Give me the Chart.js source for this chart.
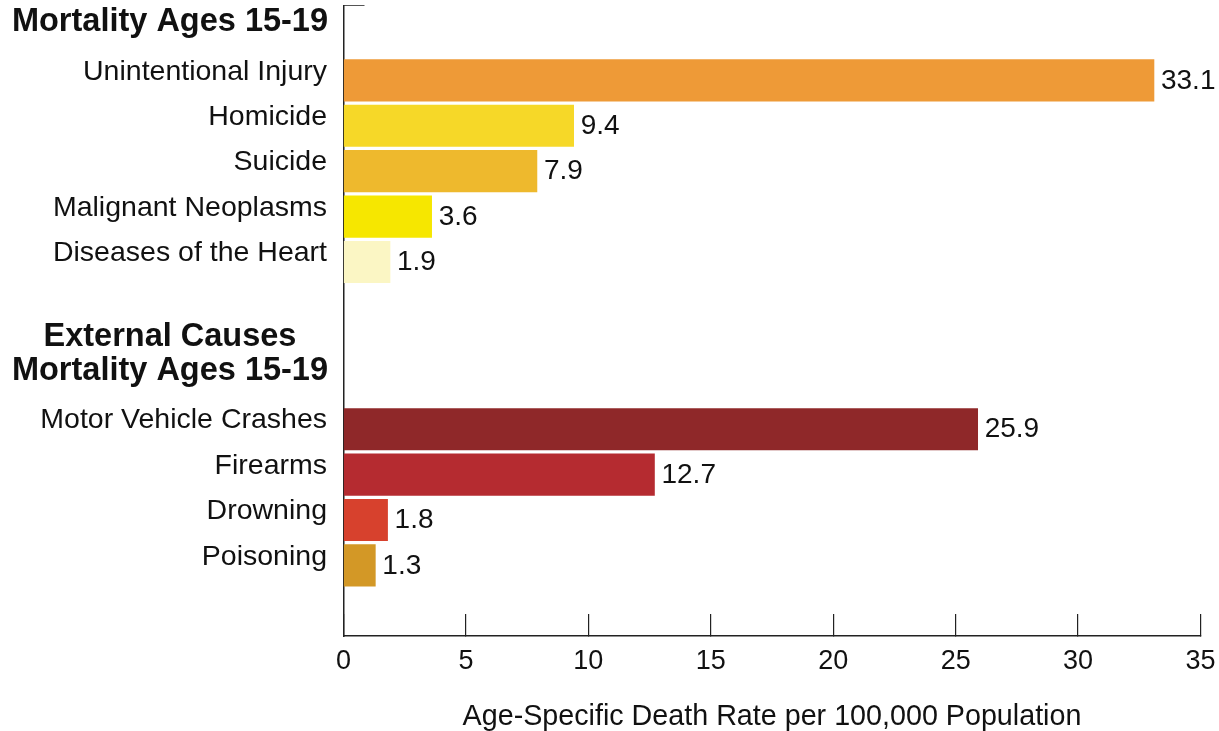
<!DOCTYPE html>
<html>
<head>
<meta charset="utf-8">
<title>Mortality Ages 15-19</title>
<script src="https://cdn.jsdelivr.net/npm/chart.js@4/dist/chart.umd.min.js"></script>
<style>
  html, body { margin: 0; padding: 0; background: #ffffff; }
  canvas { display: block; }
</style>
</head>
<body>
<canvas id="chart" width="1219" height="731"></canvas>
<script>
// Leading causes of death, ages 15-19 (rate per 100,000)
const LEADING_CAUSES = ['Unintentional Injury', 'Homicide', 'Suicide', 'Malignant Neoplasms', 'Diseases of the Heart'];
const LEADING_RATES = [33.1, 9.4, 7.9, 3.6, 1.9];
const LEADING_COLORS = ['#EE9A37', '#F6D828', '#EEB92D', '#F6E700', '#FBF6C4'];

// External causes of death, ages 15-19 (rate per 100,000)
const EXTERNAL_CAUSES = ['Motor Vehicle Crashes', 'Firearms', 'Drowning', 'Poisoning'];
const EXTERNAL_RATES = [25.9, 12.7, 1.8, 1.3];
const EXTERNAL_COLORS = ['#8F2829', '#B52B30', '#D7412D', '#D39826'];

const SECTION_TITLES = [
  ['Mortality Ages 15-19'],
  ['External Causes', 'Mortality Ages 15-19']
];

const X_TICKS = [0, 5, 10, 15, 20, 25, 30, 35];
const X_TITLE = 'Age-Specific Death Rate per 100,000 Population';

// ---- vertical layout, in bar-row units ----
const SECTION_START_ROWS = [0, 7.685];   // first bar row of each section
const TITLE_ROW_OFFSET = -1.28;          // last title line, relative to first bar
const TITLE_LINE_GAP = 34;               // px between title lines
const Y_MIN = -1.65;
const Y_MAX = 12.24;

const FONT = '"Liberation Sans", Arial, Helvetica, sans-serif';

const sections = [
  { title: SECTION_TITLES[0], labels: LEADING_CAUSES, values: LEADING_RATES, colors: LEADING_COLORS, start: SECTION_START_ROWS[0] },
  { title: SECTION_TITLES[1], labels: EXTERNAL_CAUSES, values: EXTERNAL_RATES, colors: EXTERNAL_COLORS, start: SECTION_START_ROWS[1] }
];

const points = [];
const barColors = [];
const rowLabels = [];
sections.forEach(sec => {
  sec.values.forEach((v, i) => {
    points.push({ x: v, y: sec.start + i });
    barColors.push(sec.colors[i]);
    rowLabels.push(sec.labels[i]);
  });
});

// Value labels beside the bars and bold section titles left of the axis
const annotate = {
  id: 'annotate',
  afterDatasetsDraw(chart) {
    const { ctx } = chart;
    const meta = chart.getDatasetMeta(0);
    const data = chart.data.datasets[0].data;
    ctx.save();
    ctx.fillStyle = '#111111';
    ctx.font = '28px ' + FONT;
    ctx.textAlign = 'left';
    ctx.textBaseline = 'middle';
    meta.data.forEach((bar, i) => {
      ctx.fillText(data[i].x.toFixed(1), bar.x + 7, bar.y + 0.5);
    });

    const yScale = chart.scales.y;
    const titleRight = 328;
    ctx.font = 'bold 32.5px ' + FONT;
    ctx.textAlign = 'center';
    sections.forEach(sec => {
      const lastY = yScale.getPixelForValue(sec.start + TITLE_ROW_OFFSET);
      const widest = Math.max(...sec.title.map(t => ctx.measureText(t).width));
      const cx = titleRight - widest / 2;
      sec.title.forEach((line, k) => {
        const y = lastY - (sec.title.length - 1 - k) * TITLE_LINE_GAP;
        ctx.fillText(line, cx, y);
      });
    });
    ctx.restore();
  }
};

new Chart(document.getElementById('chart'), {
  type: 'bar',
  data: {
    datasets: [{
      data: points,
      backgroundColor: barColors,
      borderWidth: 0,
      barThickness: 41.5
    }]
  },
  options: {
    indexAxis: 'y',
    responsive: false,
    animation: false,
    devicePixelRatio: 1,
    layout: { padding: { top: 5.5, right: 18.5, bottom: 0, left: 0 } },
    plugins: {
      legend: { display: false },
      tooltip: { enabled: false }
    },
    scales: {
      x: {
        type: 'linear',
        position: 'bottom',
        bounds: 'data',
        min: X_TICKS[0],
        max: X_TICKS[X_TICKS.length - 1],
        afterBuildTicks(scale) {
          scale.ticks = X_TICKS.map(v => ({ value: v }));
          scale.min = X_TICKS[0];
          scale.max = X_TICKS[X_TICKS.length - 1];
        },
        afterFit(scale) {
          scale.height = 95;
          scale.paddingLeft = 0;
          scale.paddingRight = 0;
        },
        grid: {
          display: true,
          drawOnChartArea: false,
          drawTicks: true,
          tickLength: -22,
          color: '#222222',
          lineWidth: 1.2
        },
        border: { display: true, color: '#222222', width: 1.5 },
        ticks: {
          autoSkip: false,
          maxRotation: 0,
          padding: 31.2,
          color: '#111111',
          font: { family: FONT, size: 27 }
        },
        title: {
          display: true,
          text: X_TITLE,
          color: '#111111',
          font: { family: FONT, size: 28.7, lineHeight: 1 },
          padding: { top: 0, bottom: 0 }
        }
      },
      y: {
        type: 'linear',
        position: 'left',
        reverse: true,
        offset: false,
        bounds: 'data',
        min: Y_MIN,
        max: Y_MAX,
        afterBuildTicks(scale) {
          scale.ticks = [{ value: Y_MIN }].concat(points.map(p => ({ value: p.y })));
          scale.min = Y_MIN;
          scale.max = Y_MAX;
        },
        afterFit(scale) {
          scale.width = 343.5;
          scale.paddingTop = 0;
          scale.paddingBottom = 0;
        },
        grid: {
          display: true,
          offset: false,
          drawOnChartArea: false,
          drawTicks: true,
          tickLength: -21,
          lineWidth: 1,
          color: ctx => (ctx.index === 0 ? '#555555' : 'rgba(0,0,0,0)')
        },
        border: { display: true, color: '#222222', width: 1.5 },
        ticks: {
          autoSkip: false,
          padding: 37.5,
          labelOffset: -8.6,
          color: '#111111',
          font: { family: FONT, size: 28.5 },
          callback: (value, index) => (index === 0 ? '' : rowLabels[index - 1])
        }
      }
    }
  },
  plugins: [annotate]
});
</script>
</body>
</html>
